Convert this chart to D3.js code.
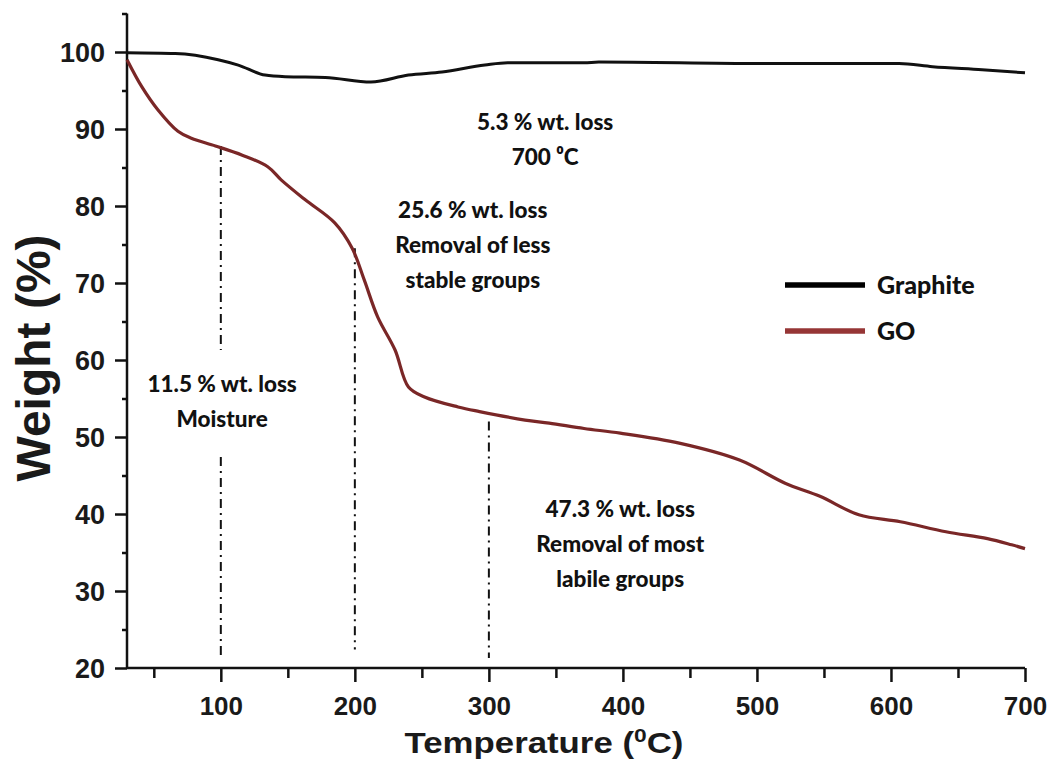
<!DOCTYPE html>
<html>
<head>
<meta charset="utf-8">
<script src="https://cdn.jsdelivr.net/npm/d3@7"></script>
<style>
  body { margin: 0; background: #fff; }
  svg { display: block; }
</style>
</head>
<body>
<div id="chart"></div>
<script>
// temperature (C) / weight (%)
const graphiteT = [30, 66, 98, 113, 133, 148, 178, 212, 240, 265, 297, 314, 371, 382, 502, 606, 631, 668, 700];
const graphiteW = [99.9, 99.8, 99.0, 98.3, 97.0, 96.8, 96.7, 96.1, 97.0, 97.4, 98.3, 98.6, 98.6, 98.7, 98.5, 98.5, 98.1, 97.7, 97.3];

const goT = [30, 41, 53, 68, 78, 96, 116, 135, 145, 163, 185, 198, 207, 217, 230, 240, 252, 277, 293, 327, 345, 371, 398, 442, 487, 521, 547, 576, 607, 641, 672, 690, 700];
const goW = [99.0, 95.5, 92.5, 89.7, 88.8, 87.8, 86.6, 85.1, 83.4, 80.8, 77.8, 74.5, 70.4, 65.6, 61.3, 56.5, 55.2, 53.9, 53.3, 52.2, 51.8, 51.1, 50.5, 49.2, 47.0, 44.0, 42.3, 39.9, 39.0, 37.7, 36.8, 36.0, 35.5];

const xMajor = [100, 200, 300, 400, 500, 600, 700];
const xMinor = [50, 150, 250, 350, 450, 550, 650];
const yMajor = [20, 30, 40, 50, 60, 70, 80, 90, 100];
const yMinor = [25, 35, 45, 55, 65, 75, 85, 95, 105];

// dash-dot guide lines: temperature, [from, to] weight segments
const guideT = [100, 100, 200, 300];
const guideFrom = [87.8, 47.4, 74.5, 52.0];
const guideTo = [61.3, 21.3, 22.4, 21.3];

// annotation anchor (centre temperature, first baseline weight)
const notes = [
  { t: 342, w: 89.9, lines: ["5.3 % wt. loss", "700 \u2070C"] },
  { t: 288, w: 78.4, lines: ["25.6 % wt. loss", "Removal of less", "stable groups"] },
  { t: 101, w: 55.8, lines: ["11.5 % wt. loss", "Moisture"] },
  { t: 398, w: 39.6, lines: ["47.3 % wt. loss", "Removal of most", "labile  groups"] }
];

const seriesNames = ["Graphite", "GO"];
const seriesColors = ["#111111", "#7a2727"];

const width = 1055, height = 764;
const svg = d3.select("#chart").append("svg")
  .attr("width", width)
  .attr("height", height);

const x = d3.scaleLinear().domain([30, 700]).range([127, 1025]);
const y = d3.scaleLinear().domain([20, 105]).range([668, 13.5]);

const tickFont = "Arial, 'Liberation Sans', sans-serif";
const noteFont = "'Liberation Sans Narrow', Lato, sans-serif";

// axes
const yAxis = svg.append("g").attr("transform", "translate(127,0)")
  .call(d3.axisLeft(y).tickValues(yMajor).tickSize(12).tickPadding(10).tickFormat(d3.format("d")));
svg.append("g").attr("transform", "translate(127,0)")
  .call(d3.axisLeft(y).tickValues(yMinor).tickSize(5).tickFormat(""))
  .select(".domain").remove();
const xAxis = svg.append("g").attr("transform", "translate(0,668)")
  .call(d3.axisBottom(x).tickValues(xMajor).tickSize(14).tickPadding(8).tickFormat(d3.format("d")));
svg.append("g").attr("transform", "translate(0,668)")
  .call(d3.axisBottom(x).tickValues(xMinor).tickSize(10).tickFormat(""))
  .select(".domain").remove();

svg.selectAll(".domain").attr("stroke", "#111").attr("stroke-width", 2.5);
svg.selectAll(".tick line").attr("stroke", "#111").attr("stroke-width", 2.5);

// domain lines without outer ticks
yAxis.select(".domain").attr("d", `M0,${y(20)}V${y(105)}`);
xAxis.select(".domain").attr("d", `M${x(30)},0H${x(700)}`);

yAxis.selectAll(".tick text")
  .attr("font-family", tickFont).attr("font-weight", "bold")
  .attr("font-size", 27).attr("fill", "#1a1a1a")
  .attr("dy", "0.36em");
xAxis.selectAll(".tick text")
  .attr("font-family", tickFont).attr("font-weight", "bold")
  .attr("font-size", 26).attr("fill", "#1a1a1a")
  .attr("dy", "0.95em");

// axis titles
svg.append("text")
  .attr("transform", "translate(50,358) rotate(-90)")
  .attr("text-anchor", "middle")
  .attr("font-family", tickFont).attr("font-weight", "bold")
  .attr("font-size", 48).attr("fill", "#1a1a1a")
  .text("Weight (%)");

const xt = svg.append("text")
  .attr("transform", "translate(544,753) scale(1.2,1)")
  .attr("text-anchor", "middle")
  .attr("font-family", tickFont).attr("font-weight", "bold")
  .attr("font-size", 29).attr("fill", "#1a1a1a");
xt.append("tspan").text("Temperature (");
xt.append("tspan").attr("dy", -11).attr("font-size", 19).text("0");
xt.append("tspan").attr("dy", 11).text("C)");

// guide lines
svg.append("g").selectAll("line")
  .data(guideT)
  .join("line")
  .attr("x1", d => x(d)).attr("x2", d => x(d))
  .attr("y1", (d, i) => y(guideFrom[i]))
  .attr("y2", (d, i) => y(guideTo[i]))
  .attr("stroke", "#111")
  .attr("stroke-width", 2)
  .attr("stroke-dasharray", "9,5,2,5");

// curves
const smooth = d3.line()
  .x(d => x(d[0]))
  .y(d => y(d[1]))
  .curve(d3.curveMonotoneX);
const spline = d3.line()
  .x(d => x(d[0]))
  .y(d => y(d[1]))
  .curve(d3.curveCatmullRom.alpha(0.5));

svg.append("path")
  .datum(graphiteT.map((t, i) => [t, graphiteW[i]]))
  .attr("d", smooth)
  .attr("fill", "none")
  .attr("stroke", seriesColors[0])
  .attr("stroke-width", 3);

svg.append("path")
  .datum(goT.map((t, i) => [t, goW[i]]))
  .attr("d", spline)
  .attr("fill", "none")
  .attr("stroke", seriesColors[1])
  .attr("stroke-linejoin", "round")
  .attr("stroke-width", 3.2);

// annotations
notes.forEach(n => {
  const t = svg.append("text")
    .attr("text-anchor", "middle")
    .attr("font-family", noteFont).attr("font-weight", 900)
    .attr("font-size", 22.5).attr("fill", "#111");
  n.lines.forEach((s, i) => {
    t.append("tspan")
      .attr("x", x(n.t))
      .attr("y", y(n.w) + i * 35)
      .text(s);
  });
});

// legend
const legend = svg.append("g").attr("transform", "translate(785,285)");
seriesNames.forEach((name, i) => {
  legend.append("line")
    .attr("x1", 0).attr("x2", 80)
    .attr("y1", i * 46).attr("y2", i * 46)
    .attr("stroke", i === 0 ? "#000" : "#963636")
    .attr("stroke-width", 5.5);
  legend.append("text")
    .attr("x", 92).attr("y", i * 46 + 9)
    .attr("font-family", noteFont).attr("font-weight", 900)
    .attr("font-size", 25).attr("fill", "#111")
    .text(name);
});
</script>
</body>
</html>
